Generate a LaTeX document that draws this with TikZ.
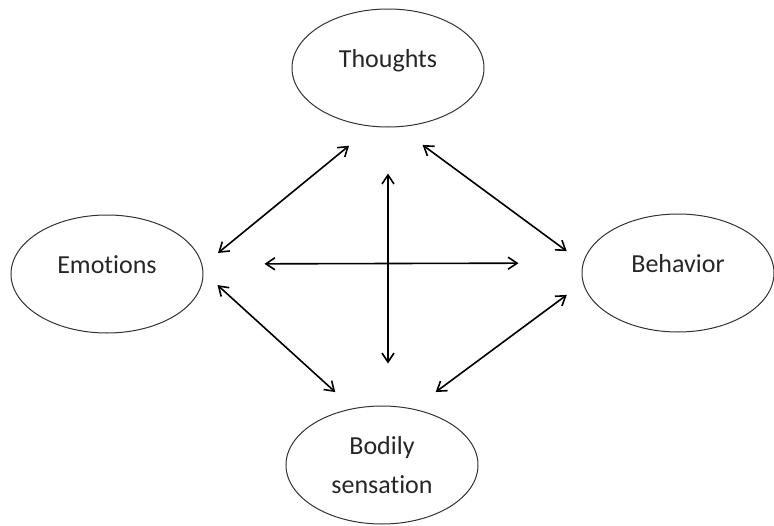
\documentclass[tikz,border=0pt]{standalone}
\usepackage{fontspec}
\setmainfont{Carlito}[Ligatures={NoCommon,NoContextual}]
\usepackage{tikz}
\usetikzlibrary{arrows.meta, shapes, positioning}
\tikzset{
	every node/.style={
		font=\fontsize{26}{39}\selectfont,
		text=black!85
	},
	idea/.style={
		shape=ellipse,
		minimum width=192pt,
		minimum height=118pt,
		inner sep=0pt,
		align=center,
		draw=black!80,
		line width=1pt
	},
	oneline/.style={
		text height=18pt,
		text depth=20pt
	},
	myarrow/.style={<->, line width=1.6pt},
}

\begin{document}
\begin{tikzpicture}[>={Straight Barb[length=9pt,width=12pt]}, on grid]
	\useasboundingbox (-388pt,68pt) rectangle (386pt,-457pt);
	
	% Burbujas
	\node[idea, oneline] (thoughts)                                          {Thoughts};
	\node[idea, oneline] (emotions) [below left=206pt and 281pt of thoughts]  {Emotions};
	\node[idea, oneline] (behavior) [below right=205pt and 290pt of thoughts] {Behavior};
	\node[idea]          (bodily)   [below=397pt of thoughts, xshift=-6pt]    {Bodily\\sensation};
	
	% Flechas diagonales
	\path[myarrow] (thoughts.255.5) edge[shorten <=30pt, shorten >=20pt] (emotions.5.8)
	(thoughts.280)   edge[shorten <=30pt, shorten >=20pt] (behavior.174.6)
	(emotions.1.2)   edge[shorten <=19pt, shorten >=24pt] (bodily.117.7)
	(behavior.186)   edge[shorten <=20pt, shorten >=28pt] (bodily.61);
	
	% Cruz central
	\path[myarrow] ([yshift=10pt]emotions.east) edge[shorten <=61pt, shorten >=63pt] ([yshift=10pt]behavior.west)
	(thoughts.south) edge[shorten <=46pt, shorten >=42pt] (thoughts.south |- bodily.north);
	
\end{tikzpicture}
\end{document}
